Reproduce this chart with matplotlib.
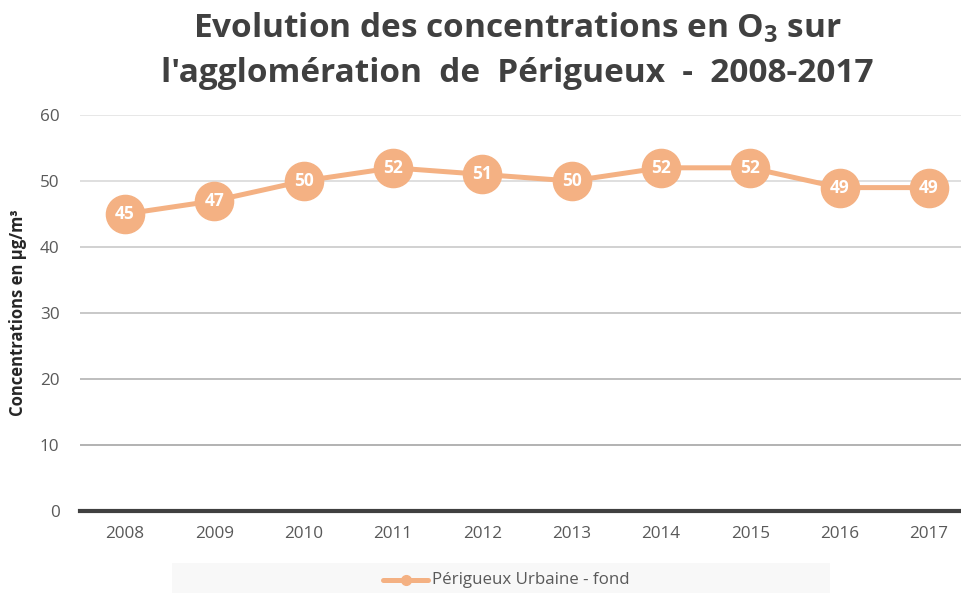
import matplotlib
matplotlib.use("Agg")
import matplotlib.pyplot as plt
from matplotlib.patches import Rectangle
from matplotlib.lines import Line2D

years = ["2008", "2009", "2010", "2011", "2012", "2013", "2014", "2015", "2016", "2017"]
values = [45, 47, 50, 52, 51, 50, 52, 52, 49, 49]
series_name = "Périgueux Urbaine - fond"
yticks = [0, 10, 20, 30, 40, 50, 60]
grid_colors = ["#404040", "#a6a6a6", "#b3b3b3", "#bfbfbf", "#c9c9c9", "#d9d9d9", "#e3e3e3"]

plt.rcParams['font.family'] = ['Open Sans', 'DejaVu Sans']
plt.rcParams['mathtext.fontset'] = 'custom'
plt.rcParams['mathtext.rm'] = 'Open Sans'
plt.rcParams['mathtext.bf'] = 'Open Sans:bold'

W, H = 961, 593
fig = plt.figure(figsize=(W / 100, H / 100), dpi=100)
left_px, right_px = 80.3, 973.7
top_px, bot_px = 115, 511
ax = fig.add_axes([left_px / W, (H - bot_px) / H, (right_px - left_px) / W, (bot_px - top_px) / H])

color = "#F4B183"
x = list(range(len(years)))
ax.set_xlim(-0.5, len(years) - 0.5)
ax.set_ylim(0, 60)

for yv, gc in zip(yticks, grid_colors):
    ax.axhline(yv, color=gc, lw=3 if yv == 0 else 1.2, zorder=1 if yv else 2, clip_on=False if yv == 0 else True)

ax.plot(x, values, color=color, lw=3.6, marker='o', markersize=27.5, zorder=3, solid_capstyle='round')
for xi, v in zip(x, values):
    ax.text(xi, v, str(v), ha='center', va='center', color='white', fontsize=12.5, fontweight='bold', zorder=4)

for s in ax.spines.values():
    s.set_visible(False)
ax.set_xticks(x)
ax.set_xticklabels(years)
ax.set_yticks(yticks)
ax.tick_params(axis='both', length=0, labelsize=12.3, colors="#595959")
ax.tick_params(axis='x', pad=11)
ax.tick_params(axis='y', pad=15)
for lab in ax.get_yticklabels() + ax.get_xticklabels():
    lab.set_color("#595959")

fig.text(18 / W, (H - 313) / H, "Concentrations en µg/m³", rotation=90, ha='center', va='center',
         fontsize=12, fontweight='bold', color="#262626")

fig.text(0.5 * (165 + 870) / W, (H - 28) / H, r"Evolution des concentrations en O$_\mathbf{3}$ sur",
         ha='center', va='center', fontsize=24, fontweight='bold', color="#404040")
fig.text(0.5 * (165 + 870) / W, (H - 73) / H, "l'agglomération  de  Périgueux  -  2008-2017",
         ha='center', va='center', fontsize=24, fontweight='bold', color="#404040")

# legend box
fig.patches.append(Rectangle((172 / W, 0), (830 - 172) / W, (593 - 563) / H, transform=fig.transFigure,
                             facecolor="#f8f8f8", edgecolor='none', zorder=0))
lx0, lx1, ly = 383 / W, 428 / W, (H - 580) / H
fig.lines.append(Line2D([lx0, lx1], [ly, ly], transform=fig.transFigure, color=color, lw=3.6,
                        solid_capstyle='round'))
fig.lines.append(Line2D([(lx0 + lx1) / 2], [ly], transform=fig.transFigure, color=color,
                        marker='o', markersize=7))
fig.text(432 / W, ly, series_name, ha='left', va='center', fontsize=12.2, color="#595959")

fig.savefig("out.png", dpi=100)
